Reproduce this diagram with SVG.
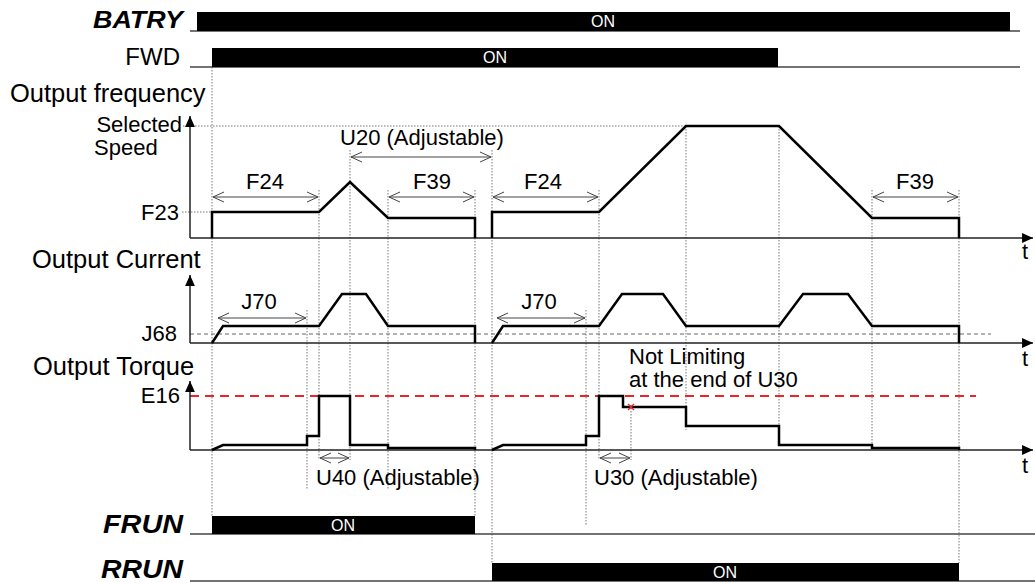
<svg xmlns="http://www.w3.org/2000/svg" width="1035" height="583" viewBox="0 0 1035 583">
<defs>
<style>
.lbl{font-family:"Liberation Sans",Arial,sans-serif;fill:#000}
.big{font-size:25.5px}
.med{font-size:22px}
.sig{font-family:"Liberation Sans",Arial,sans-serif;font-weight:bold;font-style:italic;fill:#000}
.on{font-family:"Liberation Sans",Arial,sans-serif;font-size:16px;fill:#fff;text-anchor:middle}
.bar{fill:#000}
.base{stroke:#444;stroke-width:1.5;fill:none}
.axis{stroke:#222;stroke-width:1.5;fill:none}
.wave{stroke:#000;stroke-width:2.5;fill:none;stroke-linejoin:miter}
.vdot{stroke:#777;stroke-width:1;stroke-dasharray:1.5 1.5;fill:none}
.hdot{stroke:#777;stroke-width:1;stroke-dasharray:1.5 1.5;fill:none}
.dim{stroke:#444;stroke-width:1;fill:none}
</style>
<marker id="open" markerUnits="userSpaceOnUse" markerWidth="14" markerHeight="12" viewBox="-12 -6 14 12" refX="0" refY="0" orient="auto-start-reverse">
<polyline points="-11,-5 0,0 -11,5" fill="none" stroke="#444" stroke-width="1"/>
</marker>
<marker id="solid" markerUnits="userSpaceOnUse" markerWidth="12" markerHeight="12" viewBox="-10 -5 11 10" refX="0" refY="0" orient="auto">
<polygon points="-10,-4.5 0,0 -10,4.5" fill="#000"/>
</marker>
</defs>

<g id="guides">
<line class="vdot" x1="212" y1="67" x2="212" y2="516"/>
<line class="vdot" x1="307" y1="310" x2="307" y2="490"/>
<line class="vdot" x1="319" y1="190" x2="319" y2="460"/>
<line class="vdot" x1="350" y1="150" x2="350" y2="460"/>
<line class="vdot" x1="388" y1="190" x2="388" y2="490"/>
<line class="vdot" x1="475" y1="190" x2="475" y2="516"/>
<line class="vdot" x1="492" y1="150" x2="492" y2="563"/>
<line class="vdot" x1="586" y1="310" x2="586" y2="525"/>
<line class="vdot" x1="599" y1="190" x2="599" y2="460"/>
<line class="vdot" x1="631" y1="405" x2="631" y2="460"/>
<line class="vdot" x1="686" y1="126" x2="686" y2="430"/>
<line class="vdot" x1="779" y1="126" x2="779" y2="445"/>
<line class="vdot" x1="872" y1="190" x2="872" y2="450"/>
<line class="vdot" x1="959" y1="190" x2="959" y2="563"/>
<line class="hdot" x1="183" y1="126" x2="686" y2="126"/>
<line class="hdot" x1="182" y1="212" x2="319" y2="212"/>
<line x1="190" y1="334" x2="991" y2="334" stroke="#666" stroke-width="1.2" stroke-dasharray="4 3"/>
<line x1="190" y1="396" x2="976" y2="396" stroke="#e8262a" stroke-width="2.2" stroke-dasharray="9 6"/>
</g>

<g id="batry">
<text class="sig" x="183" y="28" font-size="24" text-anchor="end" textLength="90" lengthAdjust="spacingAndGlyphs">BATRY</text>
<line class="base" x1="190" y1="31" x2="1020" y2="31"/>
<rect class="bar" x="197" y="12" width="813" height="19"/>
<text class="on" x="603" y="27">ON</text>
</g>

<g id="fwd">
<text class="lbl" x="180" y="65" font-size="24" text-anchor="end">FWD</text>
<line class="base" x1="190" y1="67" x2="1020" y2="67"/>
<rect class="bar" x="212" y="48" width="566" height="19"/>
<text class="on" x="495" y="63">ON</text>
</g>

<g id="frequency">
<text class="lbl big" x="10" y="102">Output frequency</text>
<text class="lbl med" x="182" y="132" text-anchor="end">Selected</text>
<text class="lbl med" x="94" y="155">Speed</text>
<text class="lbl med" x="179" y="220" text-anchor="end">F23</text>
<line class="axis" x1="190" y1="238" x2="190" y2="116" marker-end="url(#solid)"/>
<line class="axis" x1="190" y1="238" x2="1033" y2="238" marker-end="url(#solid)"/>
<text class="lbl med" x="1022" y="259">t</text>
<polyline class="wave" points="212,238 212,212 319,212 350,182 388,218 475,218 475,238"/>
<polyline class="wave" points="492,238 492,212 599,212 686,126 779,126 872,218 959,218 959,238"/>
</g>

<g id="current">
<text class="lbl big" x="32" y="268">Output Current</text>
<text class="lbl med" x="177" y="341" text-anchor="end">J68</text>
<line class="axis" x1="190" y1="343" x2="190" y2="275" marker-end="url(#solid)"/>
<line class="axis" x1="190" y1="343" x2="1033" y2="343" marker-end="url(#solid)"/>
<text class="lbl med" x="1022" y="366">t</text>
<polyline class="wave" points="212,343 223,326 319,326 342,294 366,294 388,326 475,326 475,343"/>
<polyline class="wave" points="492,343 503,326 599,326 622,294 663,294 686,326 779,326 803,294 848,294 872,326 959,326 959,343"/>
</g>

<g id="torque">
<text class="lbl big" x="33" y="375">Output Torque</text>
<text class="lbl med" x="180" y="403" text-anchor="end">E16</text>
<line class="axis" x1="190" y1="450" x2="190" y2="381" marker-end="url(#solid)"/>
<line class="axis" x1="190" y1="450" x2="1033" y2="450" marker-end="url(#solid)"/>
<text class="lbl med" x="1022" y="473">t</text>
<polyline class="wave" points="212,450 223,445 307,445 307,436 319,436 319,396 350,396 350,445 388,445 388,448 475,448 475,450"/>
<polyline class="wave" points="492,450 503,445 586,445 586,436 599,436 599,396 623,396 623,407 686,407 686,426 779,426 779,445 872,445 872,448 959,448 959,450"/>
<g stroke="#e8262a" stroke-width="1.3">
<line x1="628" y1="404" x2="634" y2="410"/>
<line x1="634" y1="404" x2="628" y2="410"/>
</g>
<text class="lbl med" x="629" y="364">Not Limiting</text>
<text class="lbl med" x="629" y="387">at the end of U30</text>
</g>

<g id="dimensions">
<line class="dim" x1="213" y1="197" x2="318" y2="197" marker-start="url(#open)" marker-end="url(#open)"/>
<text class="lbl med" x="265" y="189" text-anchor="middle">F24</text>
<line class="dim" x1="351" y1="157" x2="491" y2="157" marker-start="url(#open)" marker-end="url(#open)"/>
<text class="lbl med" x="422" y="145" text-anchor="middle">U20 (Adjustable)</text>
<line class="dim" x1="389" y1="197" x2="474" y2="197" marker-start="url(#open)" marker-end="url(#open)"/>
<text class="lbl med" x="432" y="189" text-anchor="middle">F39</text>
<line class="dim" x1="493" y1="197" x2="598" y2="197" marker-start="url(#open)" marker-end="url(#open)"/>
<text class="lbl med" x="543" y="189" text-anchor="middle">F24</text>
<line class="dim" x1="873" y1="197" x2="958" y2="197" marker-start="url(#open)" marker-end="url(#open)"/>
<text class="lbl med" x="915" y="189" text-anchor="middle">F39</text>
<line class="dim" x1="218" y1="318" x2="306" y2="318" marker-start="url(#open)" marker-end="url(#open)"/>
<text class="lbl med" x="259" y="309" text-anchor="middle">J70</text>
<line class="dim" x1="497" y1="318" x2="585" y2="318" marker-start="url(#open)" marker-end="url(#open)"/>
<text class="lbl med" x="539" y="309" text-anchor="middle">J70</text>
<line class="dim" x1="320" y1="458" x2="349" y2="458" marker-start="url(#open)" marker-end="url(#open)"/>
<text class="lbl med" x="316" y="485">U40 (Adjustable)</text>
<line class="dim" x1="600" y1="458" x2="630" y2="458" marker-start="url(#open)" marker-end="url(#open)"/>
<text class="lbl med" x="594" y="485">U30 (Adjustable)</text>
</g>

<g id="frun">
<text class="sig" x="183" y="533" font-size="25" text-anchor="end" textLength="80" lengthAdjust="spacingAndGlyphs">FRUN</text>
<line class="base" x1="190" y1="534" x2="1035" y2="534"/>
<rect class="bar" x="212" y="516" width="263" height="18"/>
<text class="on" x="343" y="531">ON</text>
</g>

<g id="rrun">
<text class="sig" x="183" y="578" font-size="25" text-anchor="end" textLength="82" lengthAdjust="spacingAndGlyphs">RRUN</text>
<line class="base" x1="190" y1="581" x2="1035" y2="581"/>
<rect class="bar" x="492" y="563" width="467" height="18"/>
<text class="on" x="725" y="578">ON</text>
</g>
</svg>
